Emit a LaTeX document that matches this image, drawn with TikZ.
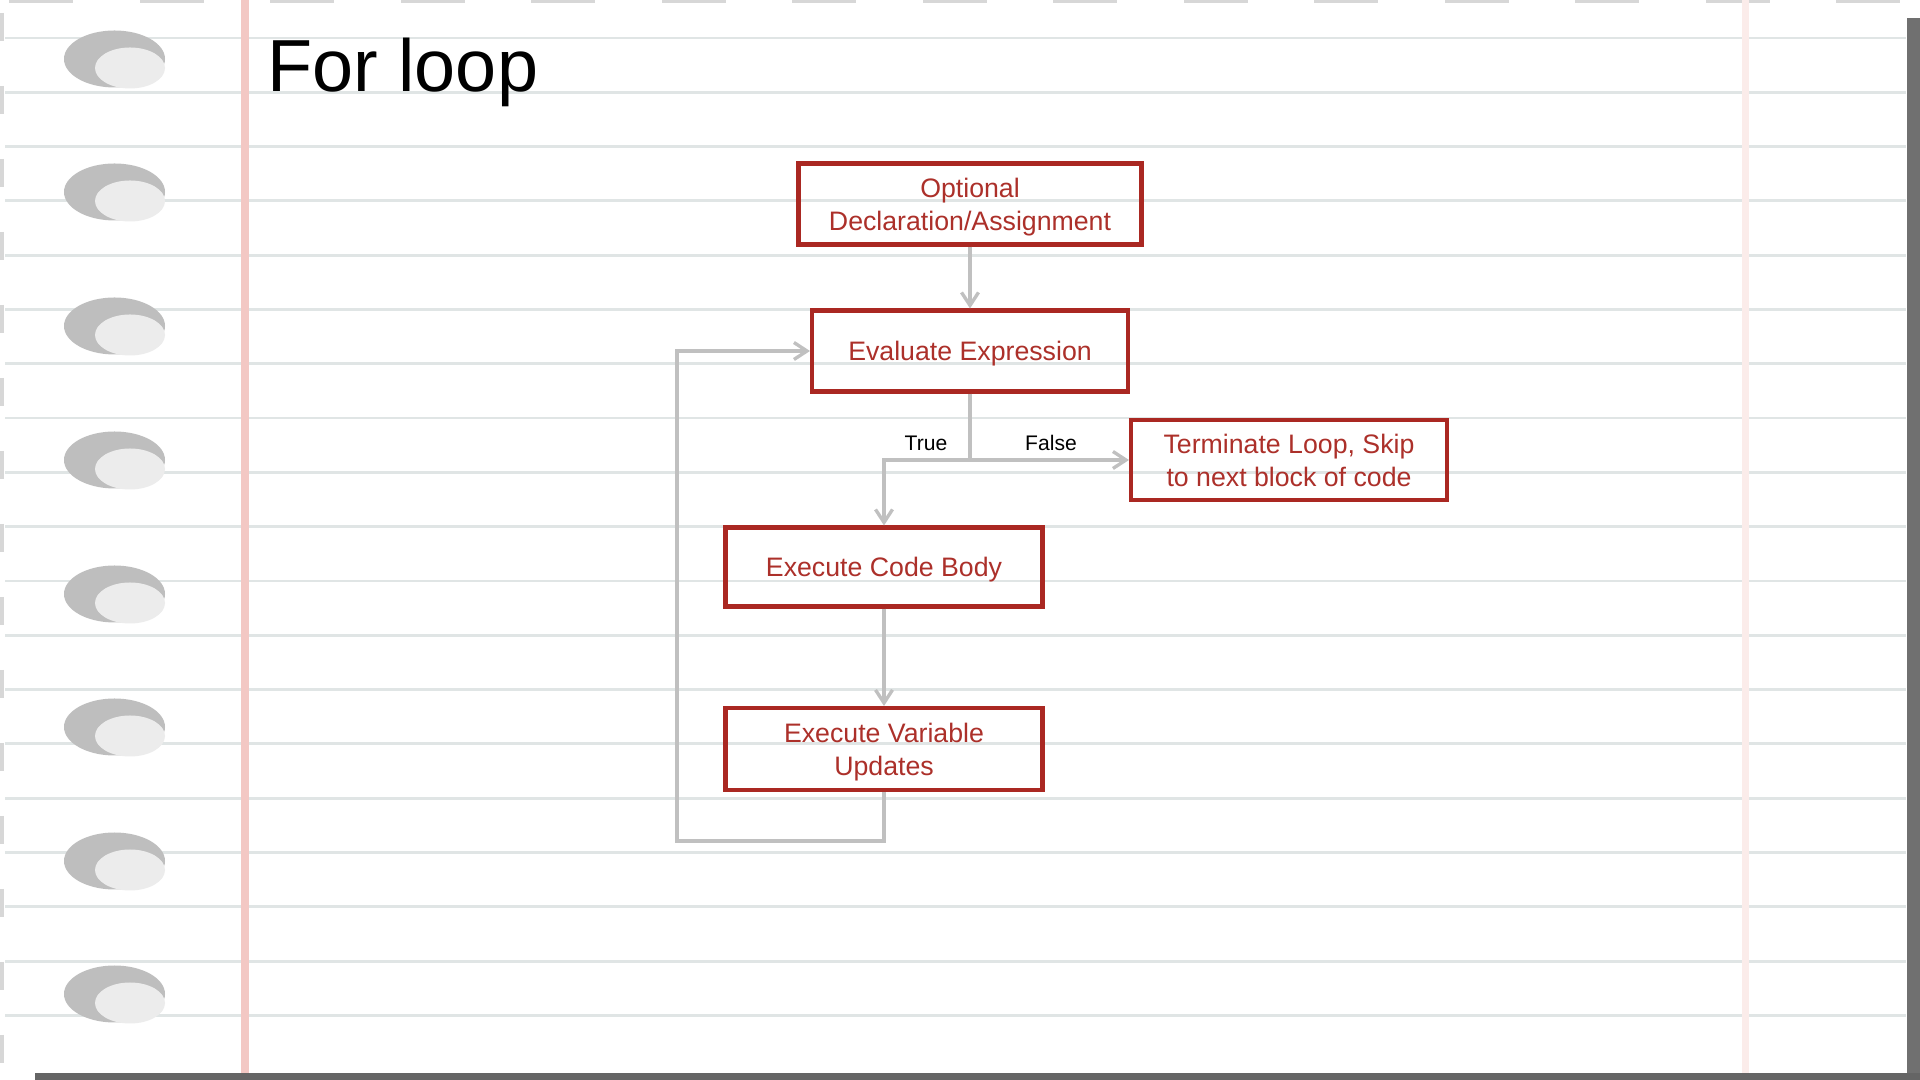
\documentclass[tikz,border=0pt]{standalone}
\usepackage{fontspec}
\setmainfont{Liberation Sans}
\usetikzlibrary{arrows.meta}
\definecolor{boxred}{RGB}{170,40,34}
\definecolor{boxtext}{RGB}{172,48,42}
\definecolor{linkgray}{RGB}{192,192,192}
\definecolor{rulegray}{RGB}{224,229,229}
\definecolor{topgray}{RGB}{215,215,215}
\definecolor{marginpink}{RGB}{243,200,196}
\definecolor{holedark}{RGB}{190,190,190}
\definecolor{holelight}{RGB}{236,236,236}
\definecolor{edgegray}{RGB}{112,112,112}
\begin{document}
\begin{tikzpicture}[
    stepbox/.style={rectangle, draw=boxred, line width=1.15pt, text=boxtext, align=center, inner sep=0pt,
        minimum width=3.16cm, minimum height=0.81cm, text depth=0pt, font=\fontsize{7.6}{9.4}\selectfont},
    link/.style={draw=linkgray, line width=0.95pt},
    arrow/.style={link, -{Straight Barb[length=1.3mm, width=1.7mm]}},
    lbl/.style={font=\fontsize{6}{7}\selectfont, text=black},
    rule/.style={draw=rulegray, line width=0.8pt}
]
% Paper
\fill[white] (0,0) rectangle (19.2,10.8);
\useasboundingbox (0,0) rectangle (19.2,10.8);
\draw[draw=topgray, line width=1.2pt, dash pattern=on 0.64cm off 0.665cm] (0.09,10.79) -- (19.06,10.79);
\draw[draw=topgray, line width=1pt, dash pattern=on 0.28cm off 0.45cm] (0.02,10.67) -- (0.02,0.1);
\foreach \k in {0,...,18}
  \draw[rule] (0.05,{10.42-0.543*\k}) -- (19.06,{10.42-0.543*\k});
\draw[draw=marginpink, line width=2.4pt] (2.45,0) -- (2.45,10.8);
\draw[draw=marginpink!35, line width=2pt] (17.45,0) -- (17.45,10.8);

% Holes
\foreach \hy in {0.59,1.92,3.26,4.60,5.94,7.27,8.61,9.94} {
  \fill[holedark] (1.145,{10.8-\hy}) ellipse (0.505 and 0.285);
  \fill[holelight] (1.30,{10.71-\hy}) ellipse (0.35 and 0.205);
}

% Edges
\fill[edgegray] (19.07,0) rectangle (19.2,10.62);
\fill[edgegray!90!black] (0.35,0) rectangle (19.2,0.07);

% Title
\node[anchor=base west, font=\fontsize{21}{25}\selectfont] (title) at (2.55,9.88) {For loop};

% Steps
\node[stepbox, minimum width=3.43cm] (opt) at (9.70,8.76) {Optional\\Declaration/Assignment};
\node[stepbox] (eval) at (9.70,7.29) {Evaluate Expression};
\node[stepbox, minimum height=0.80cm] (term) at (12.89,6.20) {Terminate Loop, Skip\\to next block of code};
\node[stepbox, minimum width=3.17cm, minimum height=0.79cm] (body) at (8.84,5.13) {Execute Code Body};
\node[stepbox, minimum width=3.17cm, minimum height=0.82cm] (upd) at (8.84,3.31) {Execute Variable\\Updates};

% Connectors
\coordinate (split) at (eval.south |- term.west);
\coordinate (loopcorner) at (6.77,2.39);
\draw[arrow] (opt) -- (eval);
\draw[link] (eval) -- (split);
\draw[arrow] (split) -| (body);
\draw[arrow] (split) -- (term);
\draw[arrow] (body) -- (upd);
\draw[arrow] (upd) |- (loopcorner) |- (eval);

% Branch labels
\node[lbl] (truelbl) at (9.26,6.37) {True};
\node[lbl] (falselbl) at (10.51,6.37) {False};
\end{tikzpicture}
\end{document}
